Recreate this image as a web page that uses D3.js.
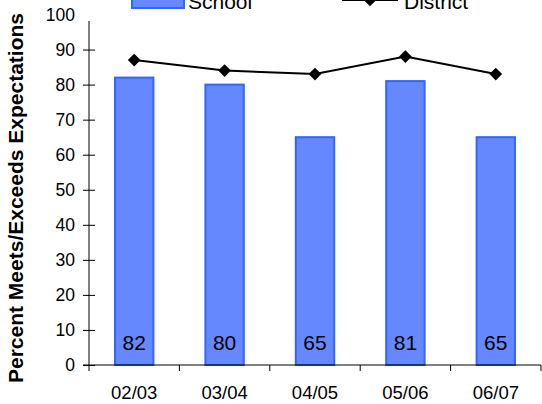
<!DOCTYPE html>
<html><head><meta charset="utf-8">
<script src="https://cdn.jsdelivr.net/npm/d3@7"></script>
<style>body{margin:0;background:#fff}svg{display:block;font-family:Arial,"Liberation Sans",sans-serif}</style>
</head><body><svg id="c" width="542" height="404"></svg>
<script>
const categories = ["02/03","03/04","04/05","05/06","06/07"];
const school = [82,80,65,81,65];
const district = [87,84,83,88,83];
const yTicks = [0,10,20,30,40,50,60,70,80,90,100];
const seriesNames = ["School","District"];
const yTitle = "Percent Meets/Exceeds Expectations";

const svg = d3.select("#c");
const L = 89, R = 541, T = 14.5, B = 365;
const x = d3.scaleBand().domain(categories).range([L, R]).paddingInner(0.575).paddingOuter(0.2875);
const xb = d3.scaleBand().domain(categories).range([L, R]);
const y = d3.scaleLinear().domain([0,100]).range([B, T]);
const FF = "Arial, 'Liberation Sans', sans-serif";

// bars
svg.append("g").selectAll("rect").data(categories).join("rect")
  .attr("x", d => x(d)).attr("width", x.bandwidth())
  .attr("y", (d,i) => y(school[i])).attr("height", (d,i) => y(0) - y(school[i]))
  .attr("fill", "#6688ff").attr("stroke", "#3366ff").attr("stroke-width", 2);

// bar labels
svg.append("g").selectAll("text").data(categories).join("text")
  .attr("x", d => x(d) + x.bandwidth()/2).attr("y", 349.5)
  .attr("text-anchor", "middle").attr("font-size", 21).attr("fill", "#000")
  .text((d,i) => school[i]);

// y axis
const ya = svg.append("g").attr("transform", `translate(${L},0)`)
  .call(d3.axisLeft(y).tickValues(yTicks).tickSize(6).tickPadding(8).tickSizeOuter(0));
ya.select(".domain").remove();
ya.selectAll(".tick line").attr("x1", -6).attr("x2", 6).attr("stroke", "#000");
ya.selectAll(".tick text").attr("font-size", 17.5).attr("font-family", FF).attr("x", -14);
svg.append("line").attr("x1", L).attr("x2", L).attr("y1", T).attr("y2", B).attr("stroke", "#000");

// x axis
const xa = svg.append("g").attr("transform", `translate(0,${B})`)
  .call(d3.axisBottom(xb).tickSize(0).tickPadding(0).tickSizeOuter(0));
xa.select(".domain").remove();
xa.selectAll(".tick text").attr("font-size", 18.5).attr("font-family", FF).attr("dy", null).attr("y", 34);
svg.append("line").attr("x1", L - 6).attr("x2", R).attr("y1", B).attr("y2", B).attr("stroke", "#000");
const bounds = categories.map(d => xb(d)).concat([xb(categories[categories.length-1]) + xb.bandwidth()]);
svg.append("g").selectAll("line").data(bounds).join("line")
  .attr("x1", d => d).attr("x2", d => d).attr("y1", B).attr("y2", B + 6).attr("stroke", "#000");

// district line
const line = d3.line().x((d,i) => xb(categories[i]) + xb.bandwidth()/2).y(d => y(d));
svg.append("path").datum(district).attr("d", line).attr("fill", "none").attr("stroke", "#000").attr("stroke-width", 2);
svg.append("g").selectAll("path").data(district).join("path")
  .attr("d", d3.symbol().type(d3.symbolSquare).size(81))
  .attr("transform", (d,i) => `translate(${xb(categories[i]) + xb.bandwidth()/2},${y(d)}) rotate(45)`)
  .attr("fill", "#000");

// legend (white box clipping top)
const lg = svg.append("g");
lg.append("rect").attr("x", 83).attr("y", -10).attr("width", 400).attr("height", 31).attr("fill", "#fff");
lg.append("rect").attr("x", 132).attr("y", -10).attr("width", 52).attr("height", 18)
  .attr("fill", "#6688ff").attr("stroke", "#3366ff").attr("stroke-width", 2);
lg.append("text").attr("x", 188).attr("y", 9).attr("font-size", 21).text(seriesNames[0]);
lg.append("line").attr("x1", 342).attr("x2", 398).attr("y1", 0).attr("y2", 0).attr("stroke", "#000").attr("stroke-width", 2);
lg.append("path").attr("d", d3.symbol().type(d3.symbolSquare).size(81)).attr("transform", "translate(370,0) rotate(45)").attr("fill", "#000");
lg.append("text").attr("x", 404).attr("y", 9).attr("font-size", 21).text(seriesNames[1]);

// y title
svg.append("text").attr("transform", "translate(23,198) rotate(-90)")
  .attr("text-anchor", "middle").attr("font-size", 21).attr("font-weight", "bold").attr("font-family", FF).text(yTitle);
</script></body></html>
